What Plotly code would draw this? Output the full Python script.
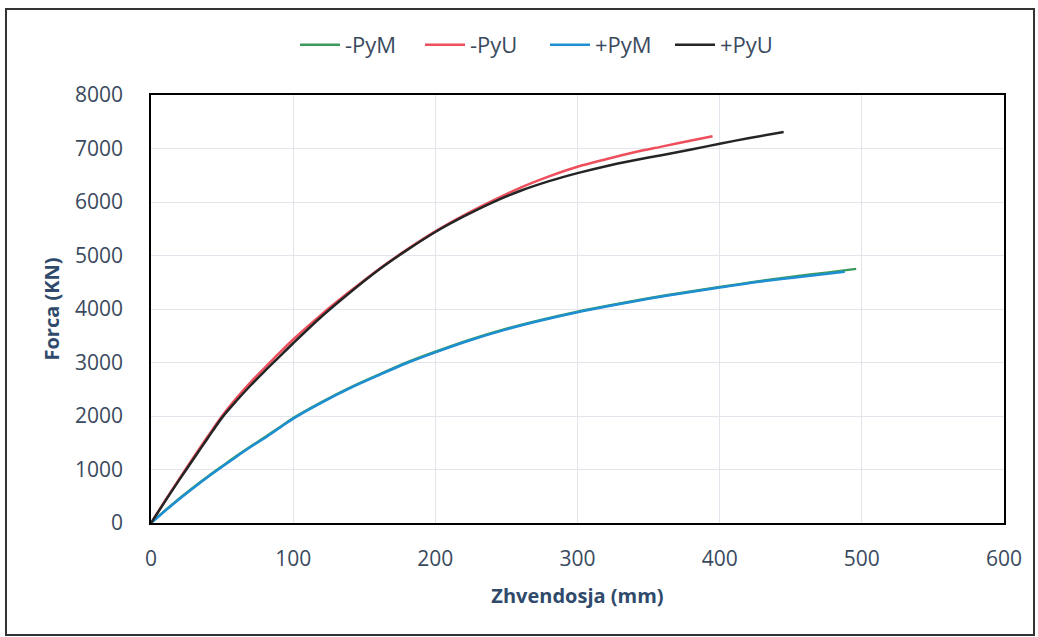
import plotly.graph_objects as go

# Displacement (mm) and force (kN)
x_neg_pym = [0, 10, 20, 30, 40, 50, 60, 70, 80, 90, 100, 120, 140, 160, 180, 200, 225, 250, 275, 300, 325, 350, 375, 400, 425, 450, 475, 496]
y_neg_pym = [0, 235, 460, 670, 870, 1060, 1250, 1430, 1600, 1780, 1960, 2260, 2530, 2770, 3000, 3200, 3430, 3630, 3800, 3950, 4080, 4200, 4310, 4410, 4510, 4600, 4680, 4750]

x_neg_pyu = [0, 10, 20, 30, 40, 50, 60, 70, 80, 90, 100, 120, 140, 160, 180, 200, 220, 240, 260, 280, 300, 320, 340, 360, 380, 395]
y_neg_pyu = [0, 420, 830, 1230, 1620, 2000, 2330, 2630, 2900, 3170, 3430, 3900, 4330, 4740, 5110, 5450, 5750, 6020, 6270, 6480, 6660, 6800, 6930, 7040, 7150, 7230]

x_pos_pym = [0, 10, 20, 30, 40, 50, 60, 70, 80, 90, 100, 120, 140, 160, 180, 200, 225, 250, 275, 300, 325, 350, 375, 400, 425, 450, 488]
y_pos_pym = [0, 230, 450, 660, 860, 1050, 1240, 1420, 1590, 1770, 1950, 2250, 2520, 2760, 2990, 3190, 3420, 3620, 3790, 3940, 4070, 4190, 4300, 4400, 4500, 4580, 4695]

x_pos_pyu = [0, 10, 20, 30, 40, 50, 60, 70, 80, 90, 100, 120, 140, 160, 180, 200, 220, 240, 260, 280, 300, 320, 340, 360, 380, 400, 420, 445]
y_pos_pyu = [0, 410, 810, 1200, 1590, 1970, 2280, 2570, 2840, 3100, 3360, 3860, 4310, 4730, 5100, 5440, 5730, 5990, 6210, 6390, 6540, 6670, 6780, 6880, 6980, 7090, 7190, 7310]

series = [
    ("-PyM", x_neg_pym, y_neg_pym, "#3A9A5C"),
    ("-PyU", x_neg_pyu, y_neg_pyu, "#EE4F5C"),
    ("+PyM", x_pos_pym, y_pos_pym, "#1E8FD2"),
    ("+PyU", x_pos_pyu, y_pos_pyu, "#252525"),
]

fig = go.Figure()
for name, xs, ys, col in series:
    fig.add_trace(go.Scatter(x=xs, y=ys, name=name, mode="lines",
                             line=dict(color=col, width=2.5, shape="spline", smoothing=0.8)))

L, R, T, B = 151, 34, 95, 114
PW, PH = 1038 - L - R, 637 - T - B

font_col = "#3A4A5E"
title_col = "#2F4A6B"
fig.update_layout(
    width=1038, height=637,
    margin=dict(l=L, r=R, t=T, b=B, autoexpand=False),
    paper_bgcolor="white", plot_bgcolor="white",
    font=dict(family="Open Sans, Liberation Sans, sans-serif", size=21, color=font_col),
    legend=dict(orientation="h", x=(545 - L) / PW, xanchor="center",
                y=(637 - B - 45) / PH, yanchor="middle",
                font=dict(size=22, color=font_col), itemwidth=40, traceorder="normal",
                entrywidth=70, entrywidthmode="pixels",
                bgcolor="rgba(0,0,0,0)"),
    showlegend=True,
    xaxis=dict(range=[0, 600], dtick=100, showgrid=True, gridcolor="#E4E4EC", gridwidth=1,
               showline=True, linecolor="black", linewidth=1.5, mirror=True, zeroline=False,
               ticks="", ticklabelstandoff=16, tickfont=dict(size=21, color=font_col),
               title=dict(text="<b>Zhvendosja (mm)</b>", font=dict(size=20, color=title_col), standoff=18)),
    yaxis=dict(range=[0, 8000], dtick=1000, showgrid=True, gridcolor="#E4E4EC", gridwidth=1,
               showline=True, linecolor="black", linewidth=1.5, mirror=True, zeroline=False,
               ticks="", ticklabelstandoff=22, tickfont=dict(size=21, color=font_col),
               title=dict(text="<b>Forca (KN)</b>", font=dict(size=20, color=title_col), standoff=10)),
)

fig.add_shape(type="rect", xref="paper", yref="paper",
              x0=(6 - L) / PW, x1=(1034 - L) / PW,
              y0=(637 - B - 635) / PH, y1=(637 - B - 9) / PH,
              line=dict(color="#333333", width=2), layer="below")

fig.write_html("out.html", config={"displayModeBar": False},
               post_script="document.body.style.margin='0px';")
